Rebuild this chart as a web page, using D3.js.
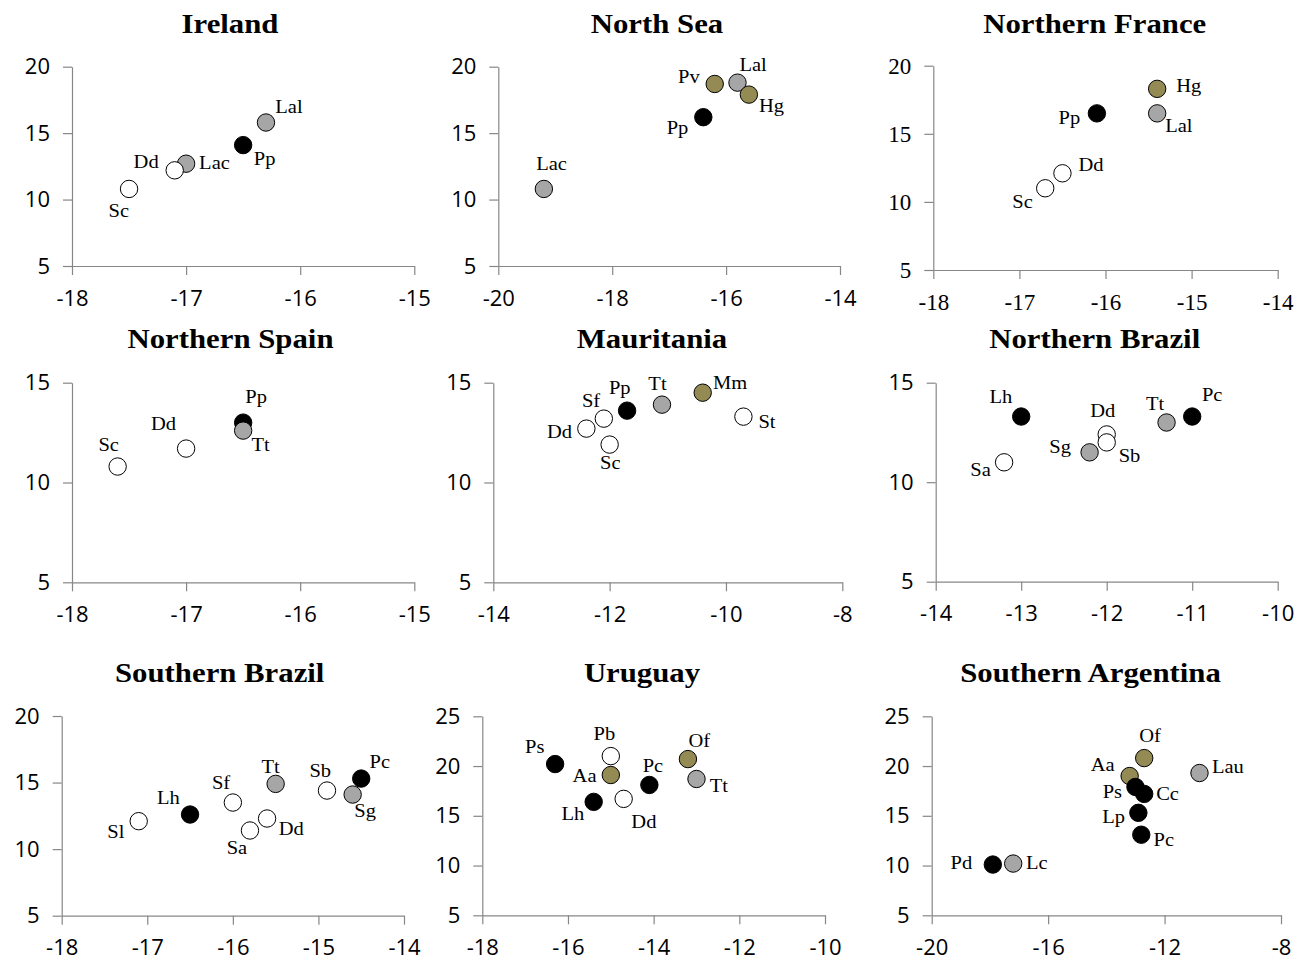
<!DOCTYPE html>
<html><head><meta charset="utf-8">
<script src="https://cdn.jsdelivr.net/npm/d3@7"></script>
<style>html,body{margin:0;padding:0;background:#fff;}</style>
</head><body>
<svg id="c" width="1309" height="961"></svg>
<script>
// ---------- DATA (δ13C = x, δ15N = y) ----------
const panelTitles = ["Ireland","North Sea","Northern France","Northern Spain","Mauritania","Northern Brazil","Southern Brazil","Uruguay","Southern Argentina"];

const irelandSp = ["Sc","Lac","Dd","Pp","Lal"];
const irelandX  = [-17.5,-17.0,-17.1,-16.5,-16.3];
const irelandY  = [10.8,12.7,12.2,14.1,15.8];
const irelandG  = ["w","g","w","b","g"];

const northSeaSp = ["Lac","Pp","Pv","Lal","Hg"];
const northSeaX  = [-19.2,-16.4,-16.2,-15.8,-15.6];
const northSeaY  = [10.8,16.2,18.7,18.8,17.9];
const northSeaG  = ["g","b","o","g","o"];

const nFranceSp = ["Sc","Dd","Pp","Lal","Hg"];
const nFranceX  = [-16.7,-16.5,-16.1,-15.4,-15.4];
const nFranceY  = [11.0,12.1,16.5,16.5,18.3];
const nFranceG  = ["w","w","b","g","o"];

const nSpainSp = ["Sc","Dd","Pp","Tt"];
const nSpainX  = [-17.6,-17.0,-16.5,-16.5];
const nSpainY  = [10.8,11.7,13.0,12.6];
const nSpainG  = ["w","w","b","g"];

const mauritSp = ["Dd","Sf","Sc","Pp","Tt","Mm","St"];
const mauritX  = [-12.4,-12.1,-12.0,-11.7,-11.1,-10.4,-9.7];
const mauritY  = [12.7,13.2,11.9,13.6,13.9,14.5,13.3];
const mauritG  = ["w","w","w","b","g","o","w"];

const nBrazilSp = ["Sa","Lh","Sg","Dd","Sb","Tt","Pc"];
const nBrazilX  = [-13.2,-13.0,-12.2,-12.0,-12.0,-11.3,-11.0];
const nBrazilY  = [11.0,13.3,11.5,12.4,12.0,13.0,13.3];
const nBrazilG  = ["w","b","g","w","w","g","b"];

const sBrazilSp = ["Sl","Lh","Sf","Sa","Dd","Tt","Sb","Pc","Sg"];
const sBrazilX  = [-17.1,-16.5,-16.0,-15.8,-15.6,-15.5,-14.9,-14.5,-14.6];
const sBrazilY  = [12.1,12.6,13.5,11.4,12.3,14.9,14.4,15.3,14.1];
const sBrazilG  = ["w","b","w","w","w","g","w","b","g"];

const uruguaySp = ["Ps","Lh","Pb","Aa","Dd","Pc","Of","Tt"];
const uruguayX  = [-16.3,-15.4,-15.0,-15.0,-14.7,-14.1,-13.2,-13.0];
const uruguayY  = [20.2,16.4,21.0,19.1,16.7,18.1,20.7,18.7];
const uruguayG  = ["b","b","w","o","w","b","o","g"];

const sArgSp = ["Pd","Lc","Of","Aa","Ps","Cc","Lp","Pc","Lau"];
const sArgX  = [-17.9,-17.2,-12.7,-13.2,-13.0,-12.7,-12.9,-12.8,-10.8];
const sArgY  = [10.1,10.2,20.8,19.0,17.9,17.2,15.3,13.1,19.3];
const sArgG  = ["b","g","o","o","b","b","b","b","g"];

const xDomains = [[-18,-15],[-20,-14],[-18,-14],[-18,-15],[-14,-8],[-14,-10],[-18,-14],[-18,-10],[-20,-8]];
const yDomains = [[5,20],[5,20],[5,20],[5,15],[5,15],[5,15],[5,20],[5,25],[5,25]];
const xSteps = [1,2,1,1,2,1,1,2,4];
const ySteps = [5,5,5,5,5,5,5,5,5];

// ---------- LAYOUT ----------
const plotBoxes = [ // left, right, top, bottom
  [72,414.3,66.7,266],[498.3,840,66.7,266],[933.3,1277.7,65.7,270],
  [72,414.3,382.7,582.3],[493.3,842.3,382.7,582.3],[935.7,1277.7,382.7,581.7],
  [61.7,404,716,915.7],[482.3,825,716.3,915.3],[931.7,1281,716.3,915.3]];
const titlePos = [[230,33],[657,33],[1094.7,33],[230.5,348.3],[652,348.3],[1094.7,348.3],[219.7,681.7],[642,681.7],[1090.5,681.7]];
const serifTicks = [false,false,true,false,false,false,false,false,false];
const labelPlace = [
  [["end",0,28],["start",13,5],["end",-16,-2],["start",10.7,20],["start",9.3,-10]],
  [["middle",7.7,-19],["end",-15,16.6],["end",-15,-1],["start",2,-11.6],["start",10,17]],
  [["end",-12.4,19.6],["start",16,-2.6],["end",-16.7,10.7],["start",8,19],["start",19,3]],
  [["middle",-9,-16],["end",-10,-18.7],["middle",13,-19.4],["start",8.4,20.7]],
  [["end",-14.3,9.3],["end",-3.7,-11.4],["middle",0.6,24.3],["middle",-7.3,-16.7],["middle",-4.5,-15],["start",10.4,-3.4],["start",15,11]],
  [["end",-13.3,13.3],["end",-9,-13.4],["end",-18.7,1],["middle",-4,-17.7],["start",12,19.7],["end",-2.3,-12.4],["start",9.7,-15.7]],
  [["end",-14.3,16.7],["middle",-21.7,-11],["end",-2.7,-13.3],["middle",-13,23.3],["start",11.6,16],["middle",-5,-11.3],["middle",-6.7,-14],["start",8.3,-10.4],["start",1.6,22.4]],
  [["end",-10.7,-10.7],["end",-9.3,17.7],["middle",-6.5,-16.4],["end",-14.3,7.4],["start",7.7,29.6],["start",-6.7,-13.3],["start",0.6,-12],["start",13.3,13]],
  [["end",-20.6,4.3],["start",12.7,5.6],["start",-5,-16],["end",-15,-5.3],["end",-13.4,10.6],["start",12,6.3],["end",-13.3,10.3],["start",12.3,11],["start",12.4,0]]
];
const fills = {b:"#000000", g:"#a6a6a6", o:"#948a54", w:"#ffffff"};

const panels = [
  [irelandSp,irelandX,irelandY,irelandG],
  [northSeaSp,northSeaX,northSeaY,northSeaG],
  [nFranceSp,nFranceX,nFranceY,nFranceG],
  [nSpainSp,nSpainX,nSpainY,nSpainG],
  [mauritSp,mauritX,mauritY,mauritG],
  [nBrazilSp,nBrazilX,nBrazilY,nBrazilG],
  [sBrazilSp,sBrazilX,sBrazilY,sBrazilG],
  [uruguaySp,uruguayX,uruguayY,uruguayG],
  [sArgSp,sArgX,sArgY,sArgG]
];

const svg = d3.select("#c");
const serif = "'Liberation Serif','Times New Roman',serif";
const sans = "'Open Sans','Liberation Sans',sans-serif";

panels.forEach((p, i) => {
  const [sp, xs, ys, gs] = p;
  const [L, R, T, B] = plotBoxes[i];
  const x = d3.scaleLinear().domain(xDomains[i]).range([L, R]);
  const y = d3.scaleLinear().domain(yDomains[i]).range([B, T]);
  const xt = d3.range(xDomains[i][0], xDomains[i][1] + 1e-9, xSteps[i]);
  const yt = d3.range(yDomains[i][0], yDomains[i][1] + 1e-9, ySteps[i]);
  const g = svg.append("g");
  const tf = serifTicks[i] ? serif : sans;
  const tfs = serifTicks[i] ? 23 : 22;

  const xa = g.append("g").attr("transform", `translate(0,${B})`)
    .call(d3.axisBottom(x).tickValues(xt).tickSize(9).tickSizeOuter(0).tickPadding(15).tickFormat(d3.format("d")));
  const ya = g.append("g").attr("transform", `translate(${L},0)`)
    .call(d3.axisLeft(y).tickValues(yt).tickSize(9).tickSizeOuter(0).tickPadding(13).tickFormat(d3.format("d")));
  [xa, ya].forEach(a => {
    a.selectAll("path,line").attr("stroke", "#878787").attr("stroke-width", 1.2);
    a.selectAll("text").attr("fill", "#000").style("font-family", tf).style("font-size", tfs + "px");
  });
  xa.selectAll("text").text(d => d < 0 ? "-" + Math.abs(d) : d);

  // title
  g.append("text").attr("transform", `translate(${titlePos[i][0]},${titlePos[i][1]}) scale(1.14,1)`)
    .attr("text-anchor", "middle").style("font-family", serif).style("font-weight", "bold")
    .style("font-size", "27px").text(panelTitles[i]);

  // points
  sp.forEach((s, k) => {
    g.append("circle").attr("cx", x(xs[k])).attr("cy", y(ys[k])).attr("r", 8.7)
      .attr("fill", fills[gs[k]]).attr("stroke", "#000").attr("stroke-width", 1);
  });
  sp.forEach((s, k) => {
    const [anc, dx, dy] = labelPlace[i][k];
    g.append("text").attr("transform", `translate(${x(xs[k]) + dx},${y(ys[k]) + dy}) scale(1.08,1)`)
      .attr("text-anchor", anc).style("font-family", serif).style("font-size", "19px").text(s);
  });
});
</script>
</body></html>
